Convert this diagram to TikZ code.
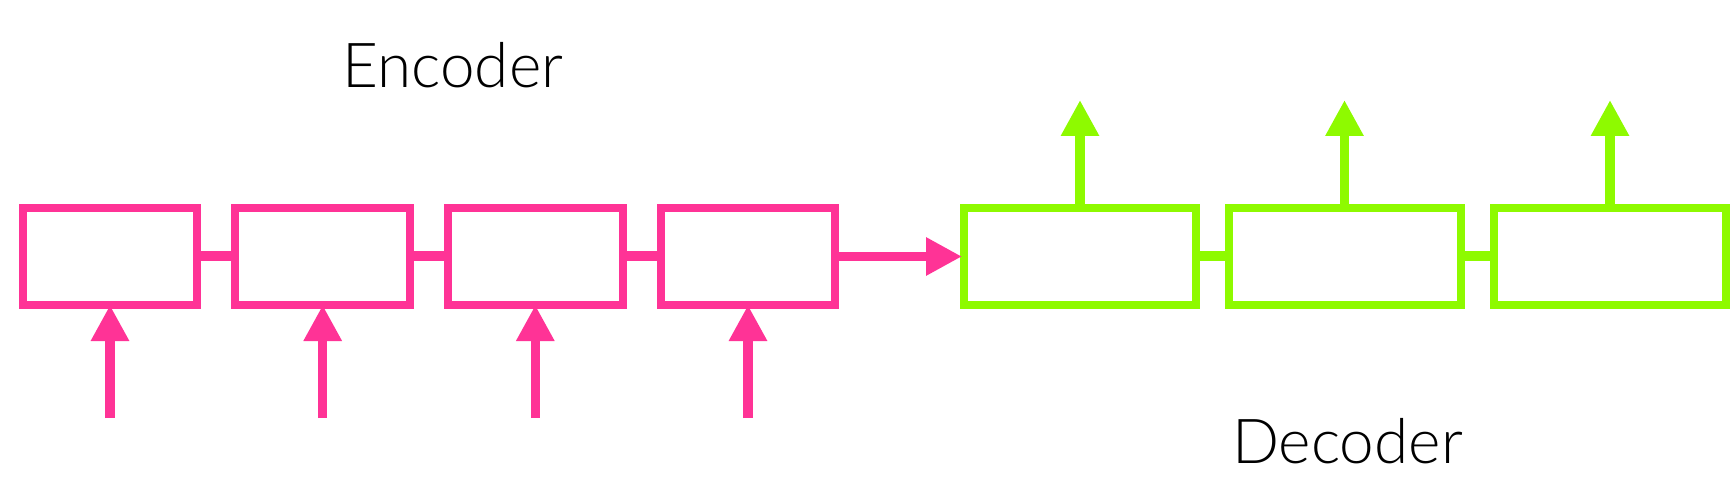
\documentclass[tikz,border=0pt]{standalone}
\usepackage{fontspec}
\setmainfont{Lato Light}
\usetikzlibrary{positioning,arrows.meta}
\definecolor{encpink}{HTML}{FF3396}
\definecolor{decgreen}{HTML}{8EFA00}

\begin{document}
\begin{tikzpicture}[x=0.5pt, y=-0.5pt, font=\fontsize{31}{36}\selectfont,
    cell/.style={draw, line width=4pt, inner sep=0pt, minimum height=48.5pt},
    enccell/.style={cell, encpink, minimum width=87.25pt},
    deccell/.style={cell, decgreen, minimum width=116pt},
    link/.style={line width=5pt},
    tipped/.style={line width=4.75pt, -{Triangle[length=18pt, width=18pt]}}]
        \useasboundingbox (0,0) rectangle (1735,497);
        % encoder and decoder cells
        \foreach \i/\x in {1/110,2/322.7,3/535.3,4/748}{\node[enccell] (e\i) at (\x,256.5) {};}
        \foreach \i/\x in {1/1080,2/1344.5,3/1610}{\node[deccell] (d\i) at (\x,256.5) {};}
        \foreach \a/\b in {1/2,2/3,3/4}{\draw[link, encpink] (e\a.east) -- (e\b.west);}
        \foreach \a/\b in {1/2,2/3}{\draw[link, decgreen] (d\a.east) -- (d\b.west);}
        % inputs and outputs
        \foreach \i in {1,...,4}{\coordinate (in\i) at ([yshift=-54.5pt]e\i.south);
            \draw[tipped, encpink, shorten >=-2pt] (in\i) -- (e\i.south);}
        \foreach \i in {1,...,3}{\coordinate (out\i) at ([yshift=52pt]d\i.north);
            \draw[tipped, decgreen] (d\i.north) -- (out\i);}
        \draw[tipped, encpink, shorten >=-1pt] (e4.east) -- (d1.west);
        \node[anchor=base] (enc) at (453,88) {Encoder};
        \node[anchor=base] (dec) at (1347.5,463) {Decoder};
\end{tikzpicture}
\end{document}
